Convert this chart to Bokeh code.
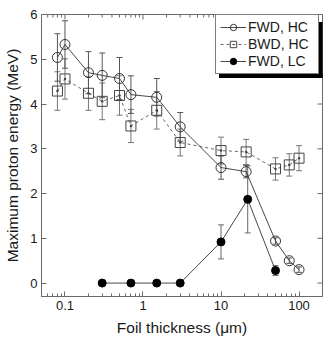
import math
from bokeh.plotting import figure
from bokeh.models import (ColumnDataSource, Whisker, TeeHead, Legend, LegendItem,
                          FixedTicker, CustomJSTickFormatter, BoxAnnotation, Range1d)
from bokeh.embed import file_html
from bokeh.resources import INLINE

# ---- data ----
x_hc = [0.08, 0.1, 0.2, 0.3, 0.5, 0.7, 1.5, 3, 10, 21, 50, 75, 100]
fwd_hc = [5.04, 5.33, 4.70, 4.64, 4.57, 4.21, 4.15, 3.49, 2.58, 2.49, 0.94, 0.50, 0.30]
fwd_hc_err = [0.53, 0.53, 0.47, 0.50, 0.47, 0.42, 0.42, 0.32, 0.26, 0.14, 0.07, 0.06, 0.06]
bwd_hc = [4.29, 4.56, 4.24, 4.06, 4.19, 3.51, 3.86, 3.14, 2.96, 2.93, 2.55, 2.64, 2.79]
bwd_hc_err = [0.43, 0.45, 0.38, 0.41, 0.44, 0.37, 0.42, 0.30, 0.30, 0.28, 0.25, 0.25, 0.28]
x_lc = [0.3, 0.7, 1.5, 3, 10, 22, 50]
fwd_lc = [0, 0, 0, 0, 0.92, 1.87, 0.28]
fwd_lc_err = [0, 0, 0, 0, 0.38, 0.75, 0.11]

x_ticks = [0.1, 1, 10, 100]
x_minor = [m * 10.0 ** d for d in range(-2, 3) for m in range(2, 10)]
y_ticks = [0, 1, 2, 3, 4, 5, 6]
series_labels = ["FWD, HC", "BWD, HC", "FWD, LC"]

X_MIN, X_MAX = 0.05, 200
Y_MIN, Y_MAX = -0.3, 6.0

FONT = "Liberation Sans"
AX = "#6a6a6a"
TXT = "#1a1a1a"

p = figure(x_axis_type="log", x_range=Range1d(X_MIN, X_MAX), y_range=Range1d(Y_MIN, Y_MAX),
           frame_width=281, frame_height=282, output_backend="svg",
           toolbar_location=None, min_border_left=41, min_border_top=14,
           min_border_right=10, min_border_bottom=42)
p.grid.visible = False
p.outline_line_color = AX

def style_axis(ax):
    ax.axis_line_color = AX
    ax.major_tick_line_color = AX
    ax.minor_tick_line_color = AX
    ax.major_tick_in = 5
    ax.major_tick_out = 0
    ax.minor_tick_in = 3
    ax.minor_tick_out = 0
    ax.major_label_text_font = FONT
    ax.major_label_text_font_size = "13px"
    ax.major_label_text_color = TXT
    ax.axis_label_text_font = FONT
    ax.axis_label_text_font_size = "15.5px"
    ax.axis_label_text_font_style = "normal"
    ax.axis_label_text_color = TXT

xa = p.xaxis[0]
xa.ticker = FixedTicker(ticks=x_ticks, minor_ticks=x_minor)
xa.formatter = CustomJSTickFormatter(code="return String(Number(tick.toPrecision(6)))")
xa.axis_label = "Foil thickness (μm)"
style_axis(xa)
xa.major_label_standoff = 4
xa.axis_label_standoff = 6

ya = p.yaxis[0]
ya.ticker = FixedTicker(ticks=y_ticks, minor_ticks=[])
ya.axis_label = "Maximum proton energy (MeV)"
style_axis(ya)
ya.major_label_standoff = 4
ya.axis_label_standoff = 6

# mirrored inward ticks on the top and right frame edges (half of each dash is clipped)
p.scatter(x_ticks, [Y_MAX] * len(x_ticks), marker="dash", angle=math.pi / 2, size=10,
          line_color=AX, line_width=1)
p.scatter(x_minor, [Y_MAX] * len(x_minor), marker="dash", angle=math.pi / 2, size=6,
          line_color=AX, line_width=1)
p.scatter([X_MAX] * len(y_ticks), y_ticks, marker="dash", size=10,
          line_color=AX, line_width=1)

# ---- error bars ----
def add_err(xs, ys, es, color):
    xs2 = [x for x, e in zip(xs, es) if e > 0]
    lo = [y - e for y, e in zip(ys, es) if e > 0]
    hi = [y + e for y, e in zip(ys, es) if e > 0]
    src = ColumnDataSource(dict(x=xs2, lower=lo, upper=hi))
    w = Whisker(base="x", lower="lower", upper="upper", source=src,
                line_color=color, line_width=1,
                upper_head=TeeHead(size=6, line_color=color, line_width=1),
                lower_head=TeeHead(size=6, line_color=color, line_width=1))
    p.add_layout(w)

add_err(x_hc, bwd_hc, bwd_hc_err, "#777777")
add_err(x_hc, fwd_hc, fwd_hc_err, "#555555")
add_err(x_lc, fwd_lc, fwd_lc_err, "#666666")

# ---- series ----
l1 = p.line(x_hc, fwd_hc, line_color="#333333", line_width=0.9)
s1 = p.scatter(x_hc, fwd_hc, marker="circle", size=10, fill_color=None,
               line_color="#333333", line_width=1)
l2 = p.line(x_hc, bwd_hc, line_color="#555555", line_width=0.9, line_dash="3 3")
s2 = p.scatter(x_hc, bwd_hc, marker="square_dot", size=10, fill_color=None,
               line_color="#444444", line_width=1)
l3 = p.line(x_lc, fwd_lc, line_color="#333333", line_width=0.9)
s3 = p.scatter(x_lc, fwd_lc, marker="circle", size=8, fill_color="black",
               line_color="black")

# ---- legend with drop shadow: two dark strips along the right and bottom edges ----
LEG_X, LEG_Y, LEG_W, LEG_H, SH = 174, 222, 104, 56, 3.5
shadow_right = BoxAnnotation(left=LEG_X + LEG_W - 1, right=LEG_X + LEG_W + SH,
                             bottom=LEG_Y - SH, top=LEG_Y + LEG_H - SH,
                             left_units="screen", right_units="screen",
                             top_units="screen", bottom_units="screen",
                             fill_color="black", fill_alpha=1, line_color=None,
                             level="overlay")
shadow_bottom = BoxAnnotation(left=LEG_X + SH, right=LEG_X + LEG_W + SH,
                              bottom=LEG_Y - SH, top=LEG_Y + 1,
                              left_units="screen", right_units="screen",
                              top_units="screen", bottom_units="screen",
                              fill_color="black", fill_alpha=1, line_color=None,
                              level="overlay")

legend = Legend(items=[LegendItem(label=series_labels[0], renderers=[l1, s1]),
                       LegendItem(label=series_labels[1], renderers=[l2, s2]),
                       LegendItem(label=series_labels[2], renderers=[l3, s3])],
                location=(LEG_X, LEG_Y), margin=0, padding=4, spacing=1,
                glyph_width=26, glyph_height=16, label_height=16, label_width=66,
                label_standoff=2,
                label_text_font=FONT, label_text_font_size="14px",
                label_text_color=TXT,
                border_line_color="black", border_line_width=1,
                background_fill_color="white", background_fill_alpha=1)
p.add_layout(legend)
p.add_layout(shadow_right)
p.add_layout(shadow_bottom)

open("out.html", "w").write(file_html(p, INLINE))
